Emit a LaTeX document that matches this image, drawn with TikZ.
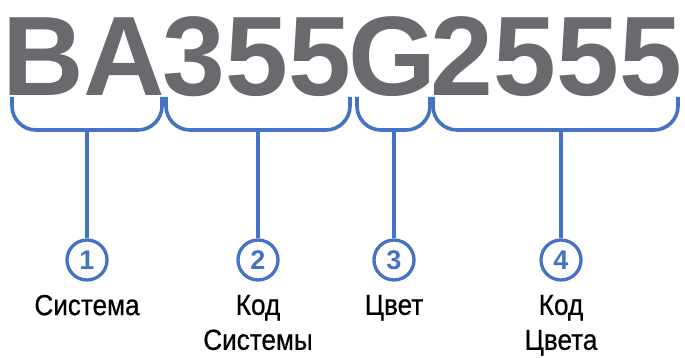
\documentclass[tikz,border=0pt]{standalone}
\usepackage{fontspec}
\setmainfont{Liberation Sans}
\newfontfamily\uzkij[FakeStretch=0.9, FakeBold=0.6]{Liberation Sans}
\usetikzlibrary{positioning}
\definecolor{KodGray}{RGB}{105,106,110}
\definecolor{KodBlue}{RGB}{68,114,196}

\begin{document}
\begin{tikzpicture}[x=1pt, y=-1pt,
	kod/.style={anchor=base, inner sep=0pt, text=KodGray,
		font=\fontsize{113}{113}\selectfont\bfseries},
	skobka/.style={draw=KodBlue, line width=3.6pt, rounded corners=24pt},
	liniya/.style={draw=KodBlue, line width=3.6pt},
	krug/.style={circle, draw=KodBlue, line width=3.3pt, minimum size=40pt,
		inner sep=0pt, text=KodBlue, font=\fontsize{27}{27}\selectfont\bfseries},
	podpis/.style={align=center, inner sep=0pt, below=13pt of #1,
		font=\uzkij\fontsize{29}{35}\selectfont}]
	\useasboundingbox (0,0) rectangle (685,358);
	% code groups
	\node[kod] (sistema) at (84,96) {BA};
	\node[kod] (kodsist) at (257,96) {355};
	\node[kod] (cvet) at (392,96) {G};
	\node[kod] (kodcv) at (556.5,96) {2555};
	% braces
	\draw[skobka] (12,97) -- (12,130) -- (162,130) -- (162,97);
	\draw[skobka] (166,97) -- (166,130) -- (350,130) -- (350,97);
	\draw[skobka] (357,97) -- (357,130) -- (430,130) -- (430,97);
	\draw[skobka] (433,97) -- (433,130) -- (678,130) -- (678,97);
	\coordinate (s1) at (87,130);
	\coordinate (s2) at (258,130);
	\coordinate (s3) at (394,130);
	\coordinate (s4) at (561,130);
	% numbers
	\node[krug] (n1) at (87,260) {1};
	\node[krug] (n2) at (258,260) {2};
	\node[krug] (n3) at (394,260) {3};
	\node[krug] (n4) at (561,260) {4};
	\foreach \i in {1,...,4}
		\draw[liniya] (s\i) -- (n\i);
	% labels
	\node[podpis=n1] (p1) {Система};
	\node[podpis=n2] (p2) {Код\\Системы};
	\node[podpis=n3] (p3) {Цвет};
	\node[podpis=n4] (p4) {Код\\Цвета};
\end{tikzpicture}
\end{document}
